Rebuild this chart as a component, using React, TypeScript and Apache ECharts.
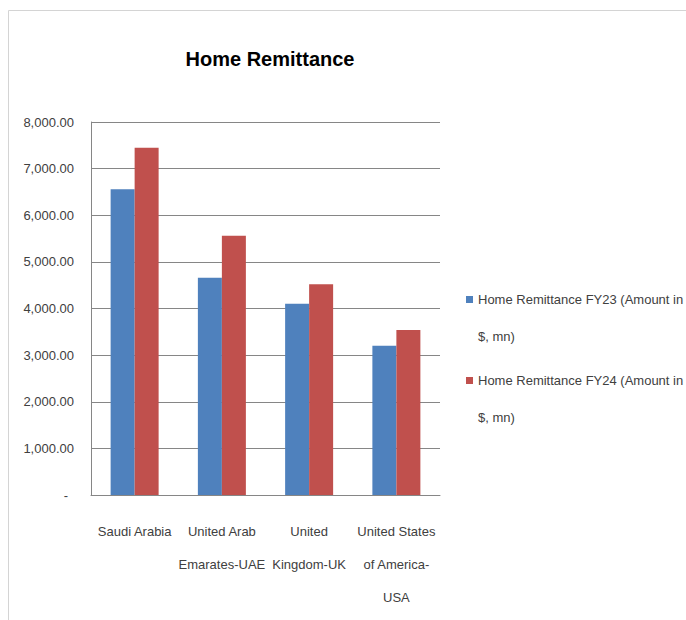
import React, { useEffect, useRef } from "react";
import * as echarts from "echarts";

const categories = [
  "Saudi Arabia",
  "United Arab\nEmarates-UAE",
  "United\nKingdom-UK",
  "United States\nof America-\nUSA",
];
const fy23Values = [6560, 4660, 4100, 3200];
const fy24Values = [7450, 5560, 4520, 3540];
const seriesNames = [
  "Home Remittance FY23 (Amount in $, mn)",
  "Home Remittance FY24 (Amount in $, mn)",
];
const yTicks = { min: 0, max: 8000, interval: 1000 };
const titleText = "Home Remittance";

const FONT = "'Liberation Sans', Arial, sans-serif";

export default function App() {
  const ref = useRef<HTMLDivElement>(null);
  useEffect(() => {
    if (!ref.current) return;
    const chart = echarts.init(ref.current, undefined, { renderer: "svg" });
    chart.setOption({
      animation: false,
      backgroundColor: "#ffffff",
      textStyle: { fontFamily: FONT },
      title: {
        text: titleText,
        left: 270,
        top: 49,
        textAlign: "center",
        padding: 0,
        textStyle: { fontFamily: FONT, fontWeight: "bold", fontSize: 20, color: "#000000" },
      },
      graphic: [
        {
          type: "rect",
          z: -10,
          silent: true,
          shape: { x: 8.5, y: 10.5, width: 720, height: 640 },
          style: { fill: "none", stroke: "#d4d4d4", lineWidth: 1 },
        },
      ],
      legend: {
        orient: "vertical",
        left: 466,
        top: 244,
        padding: 0,
        itemWidth: 7,
        itemHeight: 7,
        itemGap: -30,
        icon: "rect",
        formatter: (name: string) => "\u00a0\n" + name.replace(" $", "\n$"),
        textStyle: {
          fontFamily: FONT,
          fontSize: 13,
          color: "#404040",
          lineHeight: 37,
        },
      },
      grid: { left: 91, right: 246, top: 122, bottom: 125, containLabel: false },
      xAxis: {
        type: "category",
        data: categories,
        axisLine: { show: true, lineStyle: { color: "#868686", width: 1 } },
        axisTick: { show: false },
        axisLabel: {
          interval: 0,
          margin: 20,
          fontFamily: FONT,
          fontSize: 13,
          lineHeight: 33,
          color: "#404040",
        },
      },
      yAxis: {
        type: "value",
        min: yTicks.min,
        max: yTicks.max,
        interval: yTicks.interval,
        axisLine: { show: true, lineStyle: { color: "#868686", width: 1 } },
        axisTick: { show: false },
        splitLine: { show: true, lineStyle: { color: "#868686", width: 1 } },
        axisLabel: {
          margin: 17,
          fontFamily: FONT,
          fontSize: 13,
          color: "#404040",
          formatter: (v: number) =>
            v === 0
              ? "{z|-}"
              : v.toLocaleString("en-US", { minimumFractionDigits: 2, maximumFractionDigits: 2 }),
          rich: {
            z: { fontFamily: FONT, fontSize: 13, color: "#404040", padding: [0, 6, 0, 0] },
          },
        },
      },
      series: [
        {
          name: seriesNames[0],
          type: "bar",
          data: fy23Values,
          barWidth: 24,
          barGap: "0%",
          itemStyle: { color: "#4F81BD" },
        },
        {
          name: seriesNames[1],
          type: "bar",
          data: fy24Values,
          barWidth: 24,
          barGap: "0%",
          itemStyle: { color: "#C0504D" },
        },
      ],
    });
    return () => chart.dispose();
  }, []);
  return (
    <div
      ref={ref}
      style={{ position: "absolute", left: 0, top: 0, width: 686, height: 620 }}
    />
  );
}
